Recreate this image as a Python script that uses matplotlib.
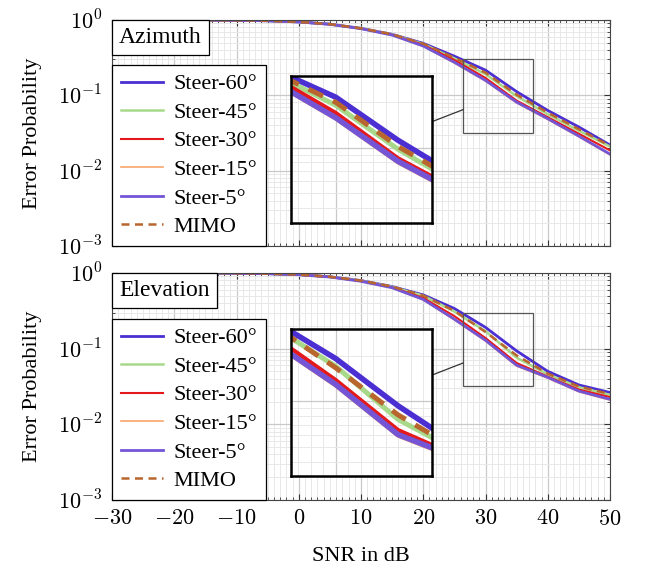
"""Error probability vs SNR for steered beams and MIMO, azimuth / elevation."""

import matplotlib

matplotlib.use("Agg")
import matplotlib.pyplot as plt  # noqa: E402
import numpy as np  # noqa: E402
from matplotlib.lines import Line2D  # noqa: E402
from matplotlib.offsetbox import AnchoredText  # noqa: E402
from matplotlib.patches import Rectangle  # noqa: E402
from matplotlib.ticker import FuncFormatter, LogLocator, MultipleLocator  # noqa: E402

plt.rcParams["font.family"] = "serif"
plt.rcParams["font.serif"] = ["Liberation Serif", "DejaVu Serif"]
plt.rcParams["mathtext.fontset"] = "cm"

SNR_DB = [-30, -25, -20, -15, -10, -5, 0, 5, 10, 15, 20, 25, 30, 35, 40, 45, 50]

# Azimuth panel
AZ_STEER60 = [1.0, 1.0, 1.0, 0.998, 0.991, 0.977, 0.944, 0.881, 0.776, 0.646,
              0.490, 0.331, 0.216, 0.112, 0.063, 0.038, 0.0219]
AZ_STEER45 = [1.0, 1.0, 1.0, 0.998, 0.991, 0.977, 0.944, 0.881, 0.776, 0.644,
              0.479, 0.309, 0.191, 0.0977, 0.0562, 0.0339, 0.0209]
AZ_STEER30 = [1.0, 1.0, 1.0, 0.998, 0.991, 0.977, 0.944, 0.879, 0.772, 0.638,
              0.468, 0.295, 0.170, 0.0851, 0.0513, 0.0309, 0.0186]
AZ_STEER15 = [1.0, 1.0, 1.0, 0.998, 0.991, 0.977, 0.942, 0.877, 0.768, 0.630,
              0.447, 0.269, 0.155, 0.0794, 0.0479, 0.0282, 0.0162]
AZ_STEER5 = [1.0, 1.0, 1.0, 0.998, 0.991, 0.977, 0.942, 0.877, 0.768, 0.631,
             0.452, 0.275, 0.158, 0.0813, 0.0490, 0.0288, 0.0166]
AZ_MIMO = [1.0, 1.0, 1.0, 0.998, 0.991, 0.977, 0.944, 0.881, 0.776, 0.646,
           0.484, 0.316, 0.200, 0.102, 0.0589, 0.0355, 0.0214]

# Elevation panel
EL_STEER60 = [1.0, 1.0, 1.0, 0.999, 0.993, 0.979, 0.951, 0.891, 0.794, 0.661,
              0.513, 0.339, 0.191, 0.0933, 0.0501, 0.0331, 0.0263]
EL_STEER45 = [1.0, 1.0, 1.0, 0.999, 0.993, 0.979, 0.951, 0.891, 0.790, 0.655,
              0.501, 0.309, 0.170, 0.0759, 0.0457, 0.0309, 0.0245]
EL_STEER30 = [1.0, 1.0, 1.0, 0.999, 0.993, 0.979, 0.949, 0.887, 0.782, 0.646,
              0.468, 0.269, 0.138, 0.0646, 0.0427, 0.0288, 0.0229]
EL_STEER15 = [1.0, 1.0, 1.0, 0.999, 0.993, 0.979, 0.948, 0.884, 0.776, 0.634,
              0.442, 0.240, 0.126, 0.0589, 0.0407, 0.0269, 0.0209]
EL_STEER5 = [1.0, 1.0, 1.0, 0.999, 0.993, 0.979, 0.948, 0.884, 0.776, 0.638,
             0.447, 0.245, 0.129, 0.0603, 0.0417, 0.0275, 0.0214]
EL_MIMO = [1.0, 1.0, 1.0, 0.999, 0.993, 0.979, 0.951, 0.891, 0.794, 0.661,
           0.501, 0.316, 0.166, 0.0813, 0.0468, 0.0316, 0.0251]

LABELS = ["Steer-60°", "Steer-45°", "Steer-30°", "Steer-15°", "Steer-5°", "MIMO"]
COLORS = ["#4B2FD3", "#A8D98A", "#E4191C", "#F7A56B", "#7355D6", "#B8652E"]
WIDTHS = [2.0, 1.8, 1.5, 1.2, 2.0, 1.8]

PANELS = [
    ("Azimuth", [AZ_STEER60, AZ_STEER45, AZ_STEER30, AZ_STEER15, AZ_STEER5, AZ_MIMO]),
    ("Elevation", [EL_STEER60, EL_STEER45, EL_STEER30, EL_STEER15, EL_STEER5, EL_MIMO]),
]

ZOOM_X = (26.4, 37.7)
ZOOM_Y = (0.032, 0.30)
X_LIM = (-30, 50)
Y_LIM = (1e-3, 1.0)
INSET_BOUNDS = [0.359, 0.104, 0.283, 0.65]

MAJOR_GRID = "#c9c9c9"
MINOR_GRID = "#e8e8e8"


def log_label(v, _pos):
    return rf"$10^{{{int(round(np.log10(v)))}}}$"


def style_grid(ax):
    ax.set_yscale("log")
    ax.xaxis.set_major_locator(MultipleLocator(10))
    ax.xaxis.set_minor_locator(MultipleLocator(1))
    ax.yaxis.set_major_locator(LogLocator(base=10, numticks=10))
    ax.yaxis.set_minor_locator(LogLocator(base=10, subs=np.arange(2, 10), numticks=20))
    ax.grid(True, which="major", color=MAJOR_GRID, linewidth=0.9)
    ax.grid(True, which="minor", color=MINOR_GRID, linewidth=0.7)
    ax.set_axisbelow(True)


def draw_curves(ax, series, scale, with_labels):
    for vals, lab, col, lw in zip(series, LABELS, COLORS, WIDTHS):
        kw = dict(color=col, linewidth=lw * scale, label=lab if with_labels else None)
        if lab == "MIMO":
            kw["dashes"] = (3.2, 2.2)
        ax.plot(SNR_DB, vals, **kw)


fig = plt.figure(figsize=(6.49, 5.72), dpi=100)
ax_top = fig.add_axes([0.1726, 0.5699, 0.7673, 0.3951])
ax_bot = fig.add_axes([0.1726, 0.1259, 0.7673, 0.3969])

for ax, (title, series) in zip([ax_top, ax_bot], PANELS):
    style_grid(ax)
    draw_curves(ax, series, 1.0, True)
    ax.set_xlim(*X_LIM)
    ax.set_ylim(*Y_LIM)
    ax.tick_params(which="both", direction="in", top=True, right=True,
                   color="#333333", labelsize=16)
    ax.tick_params(which="major", length=4, pad=7)
    ax.tick_params(which="minor", length=2)
    ax.yaxis.set_major_formatter(FuncFormatter(log_label))
    ax.xaxis.set_major_formatter(FuncFormatter(lambda v, _p: rf"${v:g}$"))
    for sp in ax.spines.values():
        sp.set_color("#444444")
        sp.set_linewidth(0.8)
    ax.set_ylabel("Error Probability", fontsize=16)
    ax.yaxis.set_label_coords(-0.14, 0.5)

    leg = ax.legend(loc="lower left", bbox_to_anchor=(0, 0), borderaxespad=0,
                    fancybox=False, edgecolor="black", framealpha=1, fontsize=16,
                    handlelength=1.9, handletextpad=0.45, labelspacing=0.36,
                    borderpad=0.4)
    leg.get_frame().set_linewidth(0.9)

    at = AnchoredText(title, loc="upper left", borderpad=0, pad=0.3,
                      prop=dict(size=17), frameon=True)
    at.patch.set_boxstyle("square,pad=0")
    at.patch.set_edgecolor("black")
    at.patch.set_linewidth(0.9)
    ax.add_artist(at)

    # zoom rectangle on the main axes
    ax.add_patch(Rectangle((ZOOM_X[0], ZOOM_Y[0]), ZOOM_X[1] - ZOOM_X[0],
                           ZOOM_Y[1] - ZOOM_Y[0], fill=False,
                           edgecolor="#555555", linewidth=0.9, zorder=4))

    # magnified inset
    axins = ax.inset_axes(INSET_BOUNDS)
    style_grid(axins)
    draw_curves(axins, series, 2.0, False)
    axins.set_xlim(*ZOOM_X)
    axins.set_ylim(*ZOOM_Y)
    axins.tick_params(which="both", length=0, labelleft=False, labelbottom=False)
    for sp in axins.spines.values():
        sp.set_color("black")
        sp.set_linewidth(1.8)

    # connector between inset and zoom box, along the line joining their centres
    def to_frac(x, y):
        fx = (x - X_LIM[0]) / (X_LIM[1] - X_LIM[0])
        fy = (np.log10(y) - np.log10(Y_LIM[0])) / (np.log10(Y_LIM[1]) - np.log10(Y_LIM[0]))
        return fx, fy

    rx0, ry0 = to_frac(ZOOM_X[0], ZOOM_Y[0])
    rx1, ry1 = to_frac(ZOOM_X[1], ZOOM_Y[1])
    ix0, iy0, iw, ih = INSET_BOUNDS
    c_in = np.array([ix0 + iw / 2, iy0 + ih / 2])
    c_rect = np.array([(rx0 + rx1) / 2, (ry0 + ry1) / 2])
    d = c_rect - c_in
    t_a = (ix0 + iw - c_in[0]) / d[0]
    t_b = (rx0 - c_in[0]) / d[0]
    pa = c_in + t_a * d
    pb = c_in + t_b * d
    ax.add_line(Line2D([pa[0], pb[0]], [pa[1], pb[1]], transform=ax.transAxes,
                       color="#333333", linewidth=0.9, zorder=4))

ax_top.tick_params(labelbottom=False)
ax_bot.set_xlabel("SNR in dB", fontsize=16)
ax_bot.xaxis.set_label_coords(0.5, -0.205)

fig.savefig("out.png", dpi=100)
